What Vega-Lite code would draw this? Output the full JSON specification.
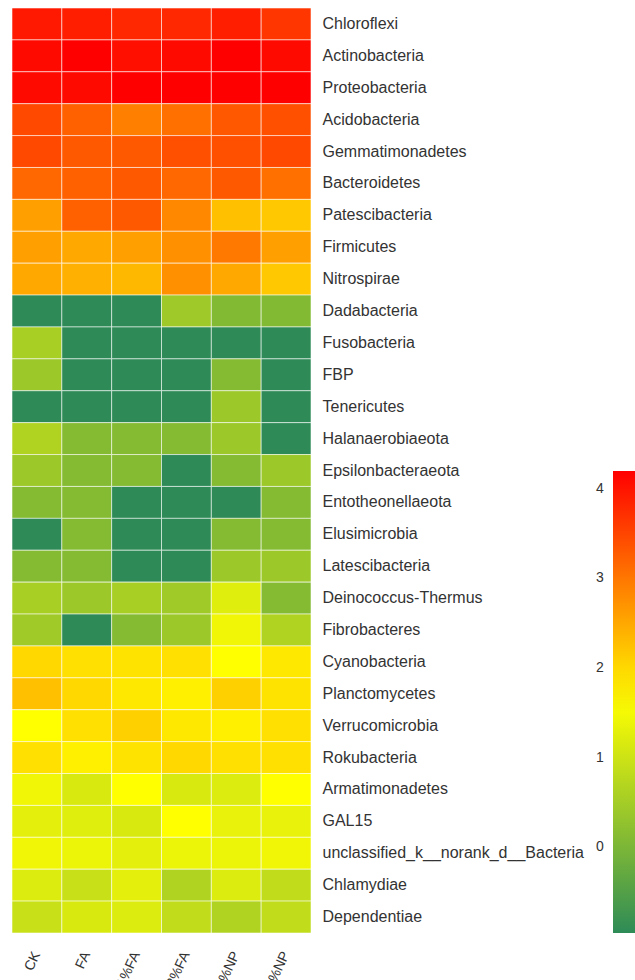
{
  "$schema": "https://vega.github.io/schema/vega-lite/v6.json",
  "autosize": {"type": "none"},
  "width": 299,
  "height": 925,
  "padding": {"left": 12, "top": 8, "right": 324, "bottom": 47},
  "background": "white",
  "config": {"view": {"stroke": null}, "font": "Liberation Sans"},
  "datasets": {
    "cells": [
      {"taxon": "Chloroflexi", "sample": "CK", "value": 3.95},
      {"taxon": "Chloroflexi", "sample": "FA", "value": 3.9},
      {"taxon": "Chloroflexi", "sample": "1%FA", "value": 3.8},
      {"taxon": "Chloroflexi", "sample": "2%FA", "value": 3.8},
      {"taxon": "Chloroflexi", "sample": "1%NP", "value": 3.9},
      {"taxon": "Chloroflexi", "sample": "2%NP", "value": 3.65},
      {"taxon": "Actinobacteria", "sample": "CK", "value": 4.1},
      {"taxon": "Actinobacteria", "sample": "FA", "value": 4.2},
      {"taxon": "Actinobacteria", "sample": "1%FA", "value": 4.05},
      {"taxon": "Actinobacteria", "sample": "2%FA", "value": 4.1},
      {"taxon": "Actinobacteria", "sample": "1%NP", "value": 4.2},
      {"taxon": "Actinobacteria", "sample": "2%NP", "value": 4.1},
      {"taxon": "Proteobacteria", "sample": "CK", "value": 4.1},
      {"taxon": "Proteobacteria", "sample": "FA", "value": 4.1},
      {"taxon": "Proteobacteria", "sample": "1%FA", "value": 4.2},
      {"taxon": "Proteobacteria", "sample": "2%FA", "value": 4.2},
      {"taxon": "Proteobacteria", "sample": "1%NP", "value": 4.2},
      {"taxon": "Proteobacteria", "sample": "2%NP", "value": 4.2},
      {"taxon": "Acidobacteria", "sample": "CK", "value": 3.47},
      {"taxon": "Acidobacteria", "sample": "FA", "value": 3.23},
      {"taxon": "Acidobacteria", "sample": "1%FA", "value": 2.9},
      {"taxon": "Acidobacteria", "sample": "2%FA", "value": 3.07},
      {"taxon": "Acidobacteria", "sample": "1%NP", "value": 3.31},
      {"taxon": "Acidobacteria", "sample": "2%NP", "value": 3.39},
      {"taxon": "Gemmatimonadetes", "sample": "CK", "value": 3.47},
      {"taxon": "Gemmatimonadetes", "sample": "FA", "value": 3.3},
      {"taxon": "Gemmatimonadetes", "sample": "1%FA", "value": 3.3},
      {"taxon": "Gemmatimonadetes", "sample": "2%FA", "value": 3.39},
      {"taxon": "Gemmatimonadetes", "sample": "1%NP", "value": 3.39},
      {"taxon": "Gemmatimonadetes", "sample": "2%NP", "value": 3.47},
      {"taxon": "Bacteroidetes", "sample": "CK", "value": 3.15},
      {"taxon": "Bacteroidetes", "sample": "FA", "value": 3.23},
      {"taxon": "Bacteroidetes", "sample": "1%FA", "value": 3.3},
      {"taxon": "Bacteroidetes", "sample": "2%FA", "value": 3.15},
      {"taxon": "Bacteroidetes", "sample": "1%NP", "value": 3.3},
      {"taxon": "Bacteroidetes", "sample": "2%NP", "value": 3.07},
      {"taxon": "Patescibacteria", "sample": "CK", "value": 2.58},
      {"taxon": "Patescibacteria", "sample": "FA", "value": 3.23},
      {"taxon": "Patescibacteria", "sample": "1%FA", "value": 3.3},
      {"taxon": "Patescibacteria", "sample": "2%FA", "value": 2.82},
      {"taxon": "Patescibacteria", "sample": "1%NP", "value": 2.26},
      {"taxon": "Patescibacteria", "sample": "2%NP", "value": 2.18},
      {"taxon": "Firmicutes", "sample": "CK", "value": 2.58},
      {"taxon": "Firmicutes", "sample": "FA", "value": 2.5},
      {"taxon": "Firmicutes", "sample": "1%FA", "value": 2.58},
      {"taxon": "Firmicutes", "sample": "2%FA", "value": 2.74},
      {"taxon": "Firmicutes", "sample": "1%NP", "value": 2.98},
      {"taxon": "Firmicutes", "sample": "2%NP", "value": 2.58},
      {"taxon": "Nitrospirae", "sample": "CK", "value": 2.5},
      {"taxon": "Nitrospirae", "sample": "FA", "value": 2.42},
      {"taxon": "Nitrospirae", "sample": "1%FA", "value": 2.34},
      {"taxon": "Nitrospirae", "sample": "2%FA", "value": 2.74},
      {"taxon": "Nitrospirae", "sample": "1%NP", "value": 2.5},
      {"taxon": "Nitrospirae", "sample": "2%NP", "value": 2.18},
      {"taxon": "Dadabacteria", "sample": "CK", "value": -0.96},
      {"taxon": "Dadabacteria", "sample": "FA", "value": -0.96},
      {"taxon": "Dadabacteria", "sample": "1%FA", "value": -0.96},
      {"taxon": "Dadabacteria", "sample": "2%FA", "value": 0.42},
      {"taxon": "Dadabacteria", "sample": "1%NP", "value": 0.08},
      {"taxon": "Dadabacteria", "sample": "2%NP", "value": 0.08},
      {"taxon": "Fusobacteria", "sample": "CK", "value": 0.55},
      {"taxon": "Fusobacteria", "sample": "FA", "value": -0.96},
      {"taxon": "Fusobacteria", "sample": "1%FA", "value": -0.96},
      {"taxon": "Fusobacteria", "sample": "2%FA", "value": -0.96},
      {"taxon": "Fusobacteria", "sample": "1%NP", "value": -0.96},
      {"taxon": "Fusobacteria", "sample": "2%NP", "value": -0.96},
      {"taxon": "FBP", "sample": "CK", "value": 0.4},
      {"taxon": "FBP", "sample": "FA", "value": -0.96},
      {"taxon": "FBP", "sample": "1%FA", "value": -0.96},
      {"taxon": "FBP", "sample": "2%FA", "value": -0.96},
      {"taxon": "FBP", "sample": "1%NP", "value": 0.1},
      {"taxon": "FBP", "sample": "2%NP", "value": -0.96},
      {"taxon": "Tenericutes", "sample": "CK", "value": -0.96},
      {"taxon": "Tenericutes", "sample": "FA", "value": -0.96},
      {"taxon": "Tenericutes", "sample": "1%FA", "value": -0.96},
      {"taxon": "Tenericutes", "sample": "2%FA", "value": -0.96},
      {"taxon": "Tenericutes", "sample": "1%NP", "value": 0.4},
      {"taxon": "Tenericutes", "sample": "2%NP", "value": -0.96},
      {"taxon": "Halanaerobiaeota", "sample": "CK", "value": 0.64},
      {"taxon": "Halanaerobiaeota", "sample": "FA", "value": 0.1},
      {"taxon": "Halanaerobiaeota", "sample": "1%FA", "value": 0.1},
      {"taxon": "Halanaerobiaeota", "sample": "2%FA", "value": 0.1},
      {"taxon": "Halanaerobiaeota", "sample": "1%NP", "value": 0.4},
      {"taxon": "Halanaerobiaeota", "sample": "2%NP", "value": -0.96},
      {"taxon": "Epsilonbacteraeota", "sample": "CK", "value": 0.4},
      {"taxon": "Epsilonbacteraeota", "sample": "FA", "value": 0.1},
      {"taxon": "Epsilonbacteraeota", "sample": "1%FA", "value": 0.1},
      {"taxon": "Epsilonbacteraeota", "sample": "2%FA", "value": -0.96},
      {"taxon": "Epsilonbacteraeota", "sample": "1%NP", "value": 0.1},
      {"taxon": "Epsilonbacteraeota", "sample": "2%NP", "value": 0.4},
      {"taxon": "Entotheonellaeota", "sample": "CK", "value": 0.1},
      {"taxon": "Entotheonellaeota", "sample": "FA", "value": 0.1},
      {"taxon": "Entotheonellaeota", "sample": "1%FA", "value": -0.96},
      {"taxon": "Entotheonellaeota", "sample": "2%FA", "value": -0.96},
      {"taxon": "Entotheonellaeota", "sample": "1%NP", "value": -0.96},
      {"taxon": "Entotheonellaeota", "sample": "2%NP", "value": 0.1},
      {"taxon": "Elusimicrobia", "sample": "CK", "value": -0.96},
      {"taxon": "Elusimicrobia", "sample": "FA", "value": 0.1},
      {"taxon": "Elusimicrobia", "sample": "1%FA", "value": -0.96},
      {"taxon": "Elusimicrobia", "sample": "2%FA", "value": -0.96},
      {"taxon": "Elusimicrobia", "sample": "1%NP", "value": 0.1},
      {"taxon": "Elusimicrobia", "sample": "2%NP", "value": 0.1},
      {"taxon": "Latescibacteria", "sample": "CK", "value": 0.1},
      {"taxon": "Latescibacteria", "sample": "FA", "value": 0.1},
      {"taxon": "Latescibacteria", "sample": "1%FA", "value": -0.96},
      {"taxon": "Latescibacteria", "sample": "2%FA", "value": -0.96},
      {"taxon": "Latescibacteria", "sample": "1%NP", "value": 0.4},
      {"taxon": "Latescibacteria", "sample": "2%NP", "value": 0.4},
      {"taxon": "Deinococcus-Thermus", "sample": "CK", "value": 0.55},
      {"taxon": "Deinococcus-Thermus", "sample": "FA", "value": 0.4},
      {"taxon": "Deinococcus-Thermus", "sample": "1%FA", "value": 0.55},
      {"taxon": "Deinococcus-Thermus", "sample": "2%FA", "value": 0.45},
      {"taxon": "Deinococcus-Thermus", "sample": "1%NP", "value": 1.24},
      {"taxon": "Deinococcus-Thermus", "sample": "2%NP", "value": 0.1},
      {"taxon": "Fibrobacteres", "sample": "CK", "value": 0.45},
      {"taxon": "Fibrobacteres", "sample": "FA", "value": -0.96},
      {"taxon": "Fibrobacteres", "sample": "1%FA", "value": 0.1},
      {"taxon": "Fibrobacteres", "sample": "2%FA", "value": 0.4},
      {"taxon": "Fibrobacteres", "sample": "1%NP", "value": 1.43},
      {"taxon": "Fibrobacteres", "sample": "2%NP", "value": 0.64},
      {"taxon": "Cyanobacteria", "sample": "CK", "value": 2.01},
      {"taxon": "Cyanobacteria", "sample": "FA", "value": 1.93},
      {"taxon": "Cyanobacteria", "sample": "1%FA", "value": 1.9},
      {"taxon": "Cyanobacteria", "sample": "2%FA", "value": 1.93},
      {"taxon": "Cyanobacteria", "sample": "1%NP", "value": 1.62},
      {"taxon": "Cyanobacteria", "sample": "2%NP", "value": 1.85},
      {"taxon": "Planctomycetes", "sample": "CK", "value": 2.26},
      {"taxon": "Planctomycetes", "sample": "FA", "value": 2.01},
      {"taxon": "Planctomycetes", "sample": "1%FA", "value": 1.85},
      {"taxon": "Planctomycetes", "sample": "2%FA", "value": 1.77},
      {"taxon": "Planctomycetes", "sample": "1%NP", "value": 2.1},
      {"taxon": "Planctomycetes", "sample": "2%NP", "value": 1.9},
      {"taxon": "Verrucomicrobia", "sample": "CK", "value": 1.62},
      {"taxon": "Verrucomicrobia", "sample": "FA", "value": 1.93},
      {"taxon": "Verrucomicrobia", "sample": "1%FA", "value": 2.1},
      {"taxon": "Verrucomicrobia", "sample": "2%FA", "value": 1.85},
      {"taxon": "Verrucomicrobia", "sample": "1%NP", "value": 1.77},
      {"taxon": "Verrucomicrobia", "sample": "2%NP", "value": 1.93},
      {"taxon": "Rokubacteria", "sample": "CK", "value": 1.93},
      {"taxon": "Rokubacteria", "sample": "FA", "value": 1.77},
      {"taxon": "Rokubacteria", "sample": "1%FA", "value": 1.9},
      {"taxon": "Rokubacteria", "sample": "2%FA", "value": 2.01},
      {"taxon": "Rokubacteria", "sample": "1%NP", "value": 1.93},
      {"taxon": "Rokubacteria", "sample": "2%NP", "value": 1.93},
      {"taxon": "Armatimonadetes", "sample": "CK", "value": 1.43},
      {"taxon": "Armatimonadetes", "sample": "FA", "value": 1.14},
      {"taxon": "Armatimonadetes", "sample": "1%FA", "value": 1.62},
      {"taxon": "Armatimonadetes", "sample": "2%FA", "value": 1.14},
      {"taxon": "Armatimonadetes", "sample": "1%NP", "value": 1.19},
      {"taxon": "Armatimonadetes", "sample": "2%NP", "value": 1.62},
      {"taxon": "GAL15", "sample": "CK", "value": 1.29},
      {"taxon": "GAL15", "sample": "FA", "value": 1.24},
      {"taxon": "GAL15", "sample": "1%FA", "value": 1.14},
      {"taxon": "GAL15", "sample": "2%FA", "value": 1.62},
      {"taxon": "GAL15", "sample": "1%NP", "value": 1.33},
      {"taxon": "GAL15", "sample": "2%NP", "value": 1.33},
      {"taxon": "unclassified_k__norank_d__Bacteria", "sample": "CK", "value": 1.43},
      {"taxon": "unclassified_k__norank_d__Bacteria", "sample": "FA", "value": 1.38},
      {"taxon": "unclassified_k__norank_d__Bacteria", "sample": "1%FA", "value": 1.29},
      {"taxon": "unclassified_k__norank_d__Bacteria", "sample": "2%FA", "value": 1.38},
      {"taxon": "unclassified_k__norank_d__Bacteria", "sample": "1%NP", "value": 1.38},
      {"taxon": "unclassified_k__norank_d__Bacteria", "sample": "2%NP", "value": 1.43},
      {"taxon": "Chlamydiae", "sample": "CK", "value": 1.19},
      {"taxon": "Chlamydiae", "sample": "FA", "value": 0.94},
      {"taxon": "Chlamydiae", "sample": "1%FA", "value": 1.29},
      {"taxon": "Chlamydiae", "sample": "2%FA", "value": 0.64},
      {"taxon": "Chlamydiae", "sample": "1%NP", "value": 1.19},
      {"taxon": "Chlamydiae", "sample": "2%NP", "value": 0.84},
      {"taxon": "Dependentiae", "sample": "CK", "value": 0.94},
      {"taxon": "Dependentiae", "sample": "FA", "value": 1.14},
      {"taxon": "Dependentiae", "sample": "1%FA", "value": 1.19},
      {"taxon": "Dependentiae", "sample": "2%FA", "value": 0.84},
      {"taxon": "Dependentiae", "sample": "1%NP", "value": 0.64},
      {"taxon": "Dependentiae", "sample": "2%NP", "value": 0.84}
    ]
  },
  "data": {"name": "cells"},
  "mark": {"type": "rect", "stroke": "#ffffff", "strokeWidth": 1, "strokeOpacity": 0.55},
  "encoding": {
    "x": {
      "field": "sample",
      "type": "nominal",
      "sort": ["CK", "FA", "1%FA", "2%FA", "1%NP", "2%NP"],
      "scale": {"paddingInner": 0, "paddingOuter": 0},
      "axis": {
        "title": null,
        "orient": "bottom",
        "labelAngle": -65,
        "labelFontSize": 14,
        "labelColor": "#333333",
        "labelPadding": 19,
        "ticks": false,
        "domain": false
      }
    },
    "y": {
      "field": "taxon",
      "type": "nominal",
      "sort": null,
      "scale": {"paddingInner": 0, "paddingOuter": 0},
      "axis": {
        "title": null,
        "orient": "right",
        "labelFontSize": 16,
        "labelColor": "#333333",
        "labelPadding": 11,
        "labelLimit": 0,
        "ticks": false,
        "domain": false
      }
    },
    "color": {
      "field": "value",
      "type": "quantitative",
      "scale": {
        "domain": [-0.96, 1.62, 4.2],
        "range": ["#2e8b57", "#ffff00", "#ff0000"],
        "interpolate": "rgb"
      },
      "legend": {
        "title": null,
        "orient": "none",
        "legendX": 601,
        "legendY": 463,
        "direction": "vertical",
        "gradientLength": 462,
        "gradientThickness": 25,
        "gradientStrokeWidth": 0,
        "values": [0, 1, 2, 3, 4],
        "format": "d",
        "labelOffset": -42,
        "labelAlign": "left",
        "labelFontSize": 14,
        "labelColor": "#333333"
      }
    }
  }
}
